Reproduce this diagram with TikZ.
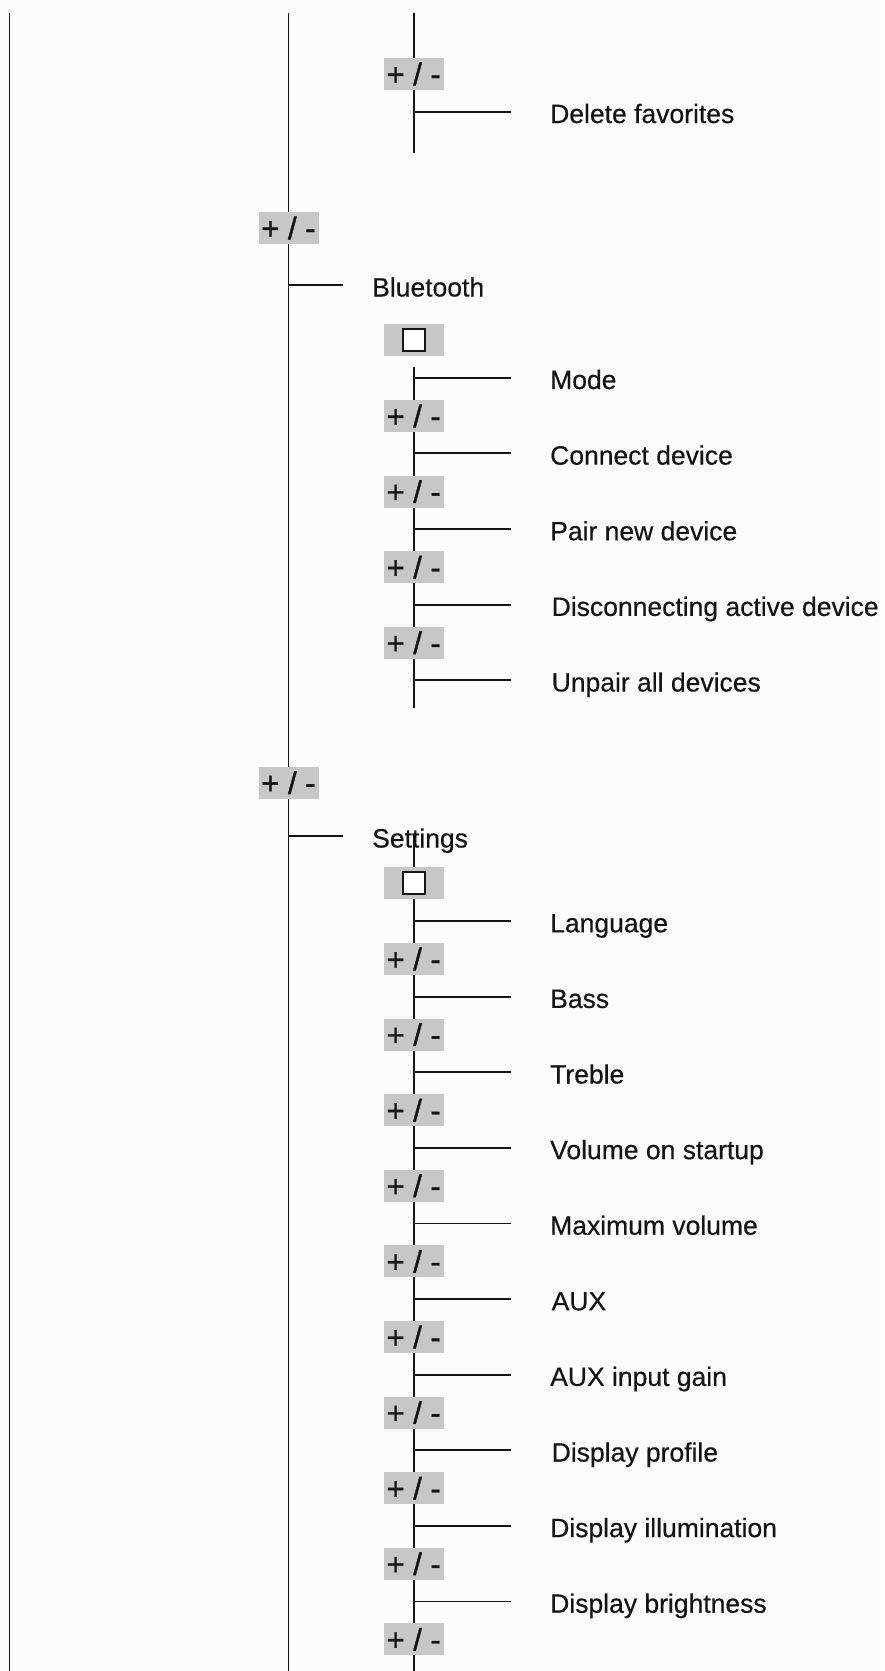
\documentclass[tikz,border=0pt]{standalone}
\usepackage{fontspec}
\setmainfont{Liberation Sans}
\newfontfamily\pmfont[FakeBold=1.2]{Liberation Sans}
\newfontfamily\lblfont[FakeBold=0.4]{Liberation Sans}
\definecolor{boxgray}{RGB}{199,200,198}
\definecolor{bgc}{RGB}{252,252,252}
\definecolor{ink}{RGB}{20,20,20}
\begin{document}
\begin{tikzpicture}[x=1pt,y=-1pt,
  conn/.style={line width=1.8pt, draw=ink},
  pmbox/.style={fill=boxgray, minimum width=60pt, minimum height=32pt, inner sep=0pt, text=ink, font=\pmfont\fontsize{31}{32}\selectfont},
  inner/.style={draw=ink, fill=white, line width=1.6pt, minimum size=22pt, inner sep=0pt},
  lbl/.style={anchor=base west, inner sep=0pt, text=ink, font=\lblfont\fontsize{26.5}{30}\selectfont}]
\fill[bgc] (0,0) rectangle (884,1671);
\useasboundingbox (0,0) rectangle (884,1671);
% main vertical lines
\coordinate (Ltop) at (9.5,13);   \coordinate (Lbot) at (9.5,1671);
\coordinate (Mtop) at (288.5,13); \coordinate (Mbot) at (288.5,1671);
\draw[conn] (Ltop) -- (Lbot);
\draw[conn] (Mtop) -- (Mbot);
% level-2 verticals
\coordinate (Atop) at (413.7,13);  \coordinate (Abot) at (413.7,153);
\coordinate (Btop) at (413.7,367); \coordinate (Bbot) at (413.7,708);
\coordinate (Ctop) at (413.7,834); \coordinate (Cbot) at (413.7,1671);
\draw[conn] (Atop) -- (Abot);
\draw[conn] (Btop) -- (Bbot);
\draw[conn] (Ctop) -- (Cbot);
% top section
\node[pmbox] (pa1) at (413.7,74) {+ / -};
\coordinate (ja1) at (413.7,112); \coordinate (ea1) at (511,112);
\draw[conn] (ja1) -- (ea1);
\node[lbl] (ta1) at (550,123) {Delete favorites};
% level-1 items
\node[pmbox] (pm1) at (288.5,228) {+ / -};
\coordinate (jm1) at (288.5,285); \coordinate (em1) at (343,285);
\draw[conn] (jm1) -- (em1);
\node[lbl] (tm1) at (372,296.5) {Bluetooth};
\node[pmbox] (pm2) at (288.5,782.7) {+ / -};
\coordinate (jm2) at (288.5,836); \coordinate (em2) at (343,836);
\draw[conn] (jm2) -- (em2);
% Bluetooth submenu
\node[pmbox] (sqb) at (413.7,340) {};
\node[inner] (sqbi) at (sqb) {};
\foreach \y/\t/\dx [count=\i] in {377.7/Mode/0, 453.3/Connect device/0, 529/Pair new device/0, 604.6/Disconnecting active device/1.5, 680.2/Unpair all devices/1.5}{
  \coordinate (jb\i) at (413.7,\y); \coordinate (eb\i) at (511,\y);
  \draw[conn] (jb\i) -- (eb\i);
  \node[lbl] (tb\i) at (550+\dx,\y+11.3) {\t};
}
\foreach \y [count=\i] in {416,491.6,567.2,642.8}{
  \node[pmbox] (pb\i) at (413.7,\y) {+ / -};
}
% Settings submenu
\node[lbl] (tm2) at (372,847.5) {Settings};
\node[pmbox] (sqs) at (413.7,883) {};
\node[inner] (sqsi) at (sqs) {};
\foreach \y/\t/\dx [count=\i] in {921/Language/0, 996.6/Bass/0, 1072.2/Treble/0, 1147.8/Volume on startup/0, 1223.4/Maximum volume/0, 1299/AUX/1.5, 1374.6/AUX input gain/0, 1450.2/Display profile/1.5, 1525.8/Display illumination/0, 1601.4/Display brightness/0}{
  \coordinate (js\i) at (413.7,\y); \coordinate (es\i) at (511,\y);
  \draw[conn] (js\i) -- (es\i);
  \node[lbl] (ts\i) at (550+\dx,\y+11.3) {\t};
}
\foreach \k in {0,...,9}{
  \node[pmbox] (ps\k) at (413.7,959+75.6*\k) {+ / -};
}
\end{tikzpicture}
\end{document}
